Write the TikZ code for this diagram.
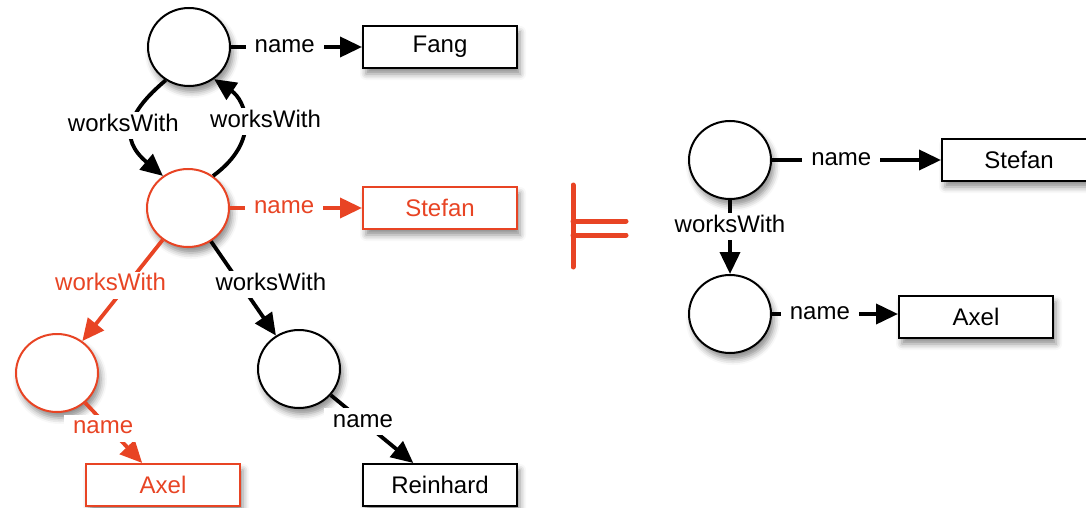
\documentclass[tikz,border=0pt]{standalone}
\usepackage{fontspec}
\setmainfont{Liberation Sans}
\usetikzlibrary{arrows.meta,shapes.geometric,shadows.blur}
\definecolor{hl}{RGB}{232,68,36}
\begin{document}
\begin{tikzpicture}[x=1pt,y=-1pt,
  font=\fontsize{24}{28}\selectfont,
  shade/.style={blur shadow={shadow xshift=3pt,shadow yshift=-6pt,shadow blur radius=6pt,shadow opacity=45}},
  res/.style={ellipse,draw=black,line width=2pt,fill=white,minimum width=82pt,minimum height=78pt,inner sep=0pt,shade},
  lit/.style={rectangle,draw=black,line width=2pt,fill=white,minimum width=154pt,minimum height=42pt,inner sep=0pt,shade},
  hot/.style={draw=hl,text=hl},
  edge/.style={line width=3.8pt,-{Triangle[length=22pt,width=20pt]}},
  lbl/.style={fill=white,inner xsep=9pt,inner ysep=3pt,text height=16pt,text depth=5pt},
]
\useasboundingbox (0,0) rectangle (1086,508);
\clip (0,0) rectangle (1086,508);

% left graph: resources and literals
\node[res] (a) at (189,47) {};
\node[lit] (fang) at (440,47) {Fang};
\node[res,hot] (s) at (188,208) {};
\node[lit,hot] (stefan) at (440,208) {Stefan};
\node[res,hot] (l) at (57,373) {};
\node[res] (r) at (299,369) {};
\node[lit,hot] (axel) at (163,485) {Axel};
\node[lit] (reinhard) at (440,485) {Reinhard};

% right graph
\node[res] (c1) at (730,160) {};
\node[lit] (stefan2) at (1019,160) {Stefan};
\node[res] (c2) at (730,314) {};
\node[lit] (axel2) at (976,317) {Axel};

% left graph: properties
\draw[edge] (a) -- node[lbl,pos=0.41]{name} (fang);
\draw[edge,hl] (s) -- node[lbl,text=hl,pos=0.41]{name} (stefan);
\draw[edge] (a.235) .. controls (128,112) and (118,138) .. (s.128)
  node[lbl,pos=0.5,xshift=-10pt]{worksWith};
\draw[edge] (s.52) .. controls (262,140) and (245,100) .. (a.-52)
  node[lbl,pos=0.5,xshift=22pt]{worksWith};
\draw[edge,hl] (s) -- node[lbl,text=hl,pos=0.45,xshift=-16pt]{worksWith} (l);
\draw[edge] (s) -- node[lbl,pos=0.46,xshift=30pt]{worksWith} (r);
\draw[edge,hl] (l) -- node[lbl,text=hl,pos=0.42,xshift=-6pt]{name} (axel);
\draw[edge] (r) -- node[lbl,pos=0.39]{name} (reinhard);

% right graph: properties
\draw[edge] (c1) -- node[lbl,pos=0.41]{name} (stefan2);
\draw[edge] (c1) -- node[lbl,pos=0.36]{worksWith} (c2);
\draw[edge] (c2.east) -- node[lbl,pos=0.38]{name} (c2.east -| axel2.west);

% entailment sign
\coordinate (ent) at (573,185);
\draw[hl,line width=5pt,line cap=round]
  (ent) -- ++(0,82)
  (ent) ++(0,36) -- ++(53,0)
  (ent) ++(0,50) -- ++(53,0);
\end{tikzpicture}
\end{document}
